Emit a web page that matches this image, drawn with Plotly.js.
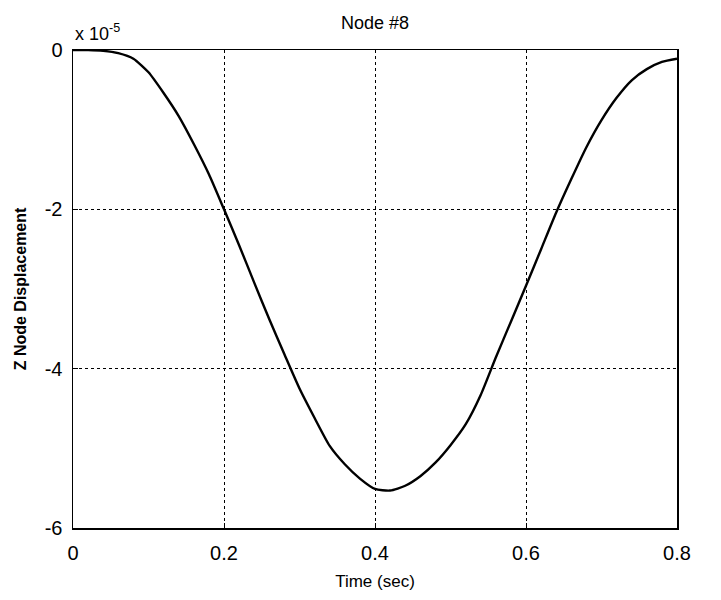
<!DOCTYPE html>
<html>
<head>
<meta charset="utf-8">
<script src="https://cdn.plot.ly/plotly-3.0.1.min.js"></script>
<style>html,body{margin:0;padding:0;background:#fff;}</style>
</head>
<body>
<div id="chart" style="width:721px;height:600px;"></div>
<script>
// Time (sec)
const timeSec = [0, 0.02, 0.04, 0.06, 0.08, 0.10, 0.12, 0.14, 0.16, 0.18, 0.20,
  0.22, 0.24, 0.26, 0.28, 0.30, 0.32, 0.34, 0.36, 0.38, 0.40,
  0.42, 0.44, 0.46, 0.48, 0.50, 0.52, 0.54, 0.56, 0.58, 0.60,
  0.62, 0.64, 0.66, 0.68, 0.70, 0.72, 0.74, 0.76, 0.78, 0.80];
// Z node displacement, in units of 1e-5
const zDisp = [0, 0, -0.01, -0.04, -0.11, -0.28, -0.54, -0.83, -1.18, -1.56, -2.0,
  -2.45, -2.92, -3.38, -3.82, -4.25, -4.62, -4.97, -5.2, -5.38, -5.51,
  -5.53, -5.47, -5.35, -5.18, -4.96, -4.7, -4.33, -3.86, -3.41, -2.96,
  -2.5, -2.04, -1.62, -1.22, -0.88, -0.6, -0.38, -0.24, -0.15, -0.11];
const xTicks = [0, 0.2, 0.4, 0.6, 0.8];
const xTickText = ['0', '0.2', '0.4', '0.6', '0.8'];
const yTicks = [0, -2, -4, -6];
const yTickText = ['0', '-2', '-4', '-6'];

const font = 'Liberation Sans, Arial, sans-serif';

Plotly.newPlot('chart', [{
  x: timeSec, y: zDisp, type: 'scatter', mode: 'lines',
  line: {color: '#000', width: 2.4, shape: 'spline', smoothing: 0.6},
  hoverinfo: 'skip'
}], {
  width: 721, height: 600,
  margin: {l: 73, r: 44, t: 50, b: 72},
  paper_bgcolor: '#fff', plot_bgcolor: '#fff',
  showlegend: false,
  title: {text: 'Node #8', font: {family: font, size: 18, color: '#000'}, x: 0.5, xref: 'paper', y: 0.962, yref: 'container', yanchor: 'middle'},
  xaxis: {
    range: [0, 0.8], tickvals: xTicks, ticktext: xTickText,
    showgrid: true, gridcolor: '#000', griddash: 'dot', gridwidth: 1,
    showline: true, linecolor: '#000', linewidth: 1.5, mirror: true,
    ticks: 'inside', ticklen: 5, tickcolor: '#000', zeroline: false,
    ticklabelstandoff: 6,
    tickfont: {family: font, size: 20, color: '#000'},
    title: {text: 'Time (sec)', font: {family: font, size: 17, color: '#000'}, standoff: 12}
  },
  yaxis: {
    range: [-6, 0], tickvals: yTicks, ticktext: yTickText,
    showgrid: true, gridcolor: '#000', griddash: 'dot', gridwidth: 1,
    showline: true, linecolor: '#000', linewidth: 1.5, mirror: true,
    ticks: 'inside', ticklen: 5, tickcolor: '#000', zeroline: false,
    ticklabelstandoff: 5,
    tickfont: {family: font, size: 20, color: '#000'},
    title: {text: '<b>Z Node Displacement</b>', font: {family: font, size: 16, color: '#000'}, standoff: 14}
  },
  annotations: [{
    text: 'x 10<sup>-5</sup>', xref: 'paper', yref: 'paper', x: 0.0, y: 1.0,
    xanchor: 'left', yanchor: 'bottom', showarrow: false, yshift: 4,
    font: {family: font, size: 18, color: '#000'}
  }]
}, {displayModeBar: false, staticPlot: true});
</script>
</body>
</html>
